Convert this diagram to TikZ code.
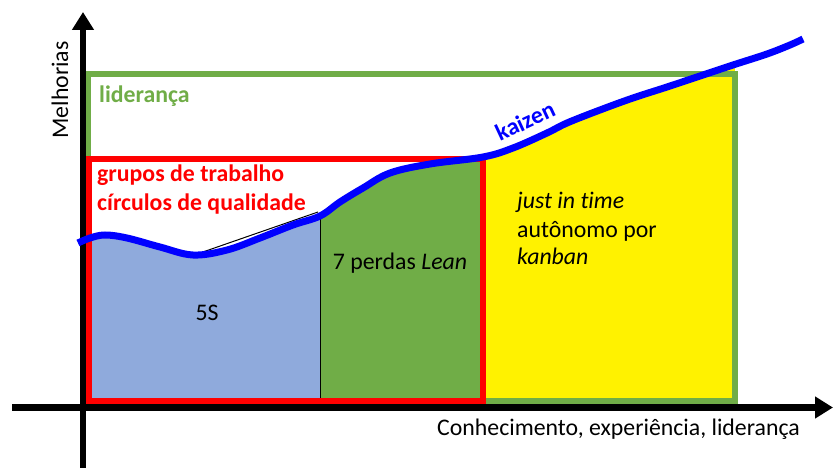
\documentclass[tikz,border=0pt]{standalone}
\usepackage{fontspec}
\setmainfont{Carlito}[Ligatures=NoCommon]
\usetikzlibrary{arrows.meta}
\definecolor{leangreen}{HTML}{70AD47}
\definecolor{fiveblue}{HTML}{8FAADC}
\definecolor{kaizenblue}{HTML}{0000FF}

\begin{document}
\begin{tikzpicture}[x=1pt, y=-1pt]
	\tikzset{axis/.style={line width=6.5pt, -{Triangle[length=18pt, width=21pt]}},
		kaizenline/.style={draw=kaizenblue, line width=7pt},
		label/.style={font=\fontsize{23.8}{29}\selectfont, inner sep=0pt},
		boldlabel/.style={label, font=\fontsize{23.8}{29}\selectfont\bfseries}}
	\useasboundingbox (0,0) rectangle (833,468);
	
	\coordinate (ybot) at (83,468);
	\coordinate (ytop) at (83,12);
	\coordinate (xleft) at (12,407.5);
	\coordinate (xright) at (833,407.5);
	
	\begin{scope}
		\clip plot[smooth, tension=0.6] coordinates {(78,243) (90,238) (105,235) (127,238) (160,247) (193,255) (227,250) (260,238) (293,225) (320,216) (340,202) (363,188) (390,173) (430,164) (483,157) (513,148) (547,133) (567,123) (600,110) (633,98) (667,87) (700,76) (733,65) (767,54) (790,45) (803,39)} -- (803,402) -- (78,402) -- cycle;
		\fill[fiveblue] (88,0) rectangle (320,402);
		\fill[leangreen] (320,0) rectangle (483,402);
		\fill[yellow] (483,0) rectangle (735,402);
	\end{scope}
	
	\coordinate (splittop) at (320,216);
	\coordinate (splitbot) at (320,401);
	\draw[line width=1pt] (splittop) -- (splitbot);
	\draw[line width=1pt] (200,253) -- (318,212);
	
	\draw[leangreen, line width=5.5pt] (88,74) rectangle (735,401);
	\draw[red, line width=6pt] (89,159) rectangle (483,401);
	
	\draw[axis] (ybot) -- (ytop);
	\draw[axis] (xleft) -- (xright);
	
	\draw[kaizenline] plot[smooth, tension=0.6] coordinates {(78,243) (90,238) (105,235) (127,238) (160,247) (193,255) (227,250) (260,238) (293,225) (320,216) (340,202) (363,188) (390,173) (430,164) (483,157) (513,148) (547,133) (567,123) (600,110) (633,98) (667,87) (700,76) (733,65) (767,54) (790,45) (803,39)};
	
	\node[label, rotate=90] (melhorias) at (60,90) {Melhorias};
	\node[label, anchor=base west] (conhecimento) at (437,435) {Conhecimento, experiência, liderança};
	\node[boldlabel, anchor=base west, text=leangreen] (lideranca) at (99,103) {liderança};
	\node[boldlabel, anchor=base west, text=red] (grupos) at (97,182) {grupos de trabalho};
	\node[boldlabel, anchor=base west, text=red] (circulos) at (97,211) {círculos de qualidade};
	\node[boldlabel, text=kaizenblue, rotate=25] (kaizen) at (525,121) {kaizen};
	\node[label, anchor=base west] (jit) at (517,208) {\itshape just in time};
	\node[label, anchor=base west] (autonomo) at (517,237) {autônomo por};
	\node[label, anchor=base west] (kanban) at (517,264) {\itshape kanban};
	\node[label, anchor=base] (perdas) at (400,269) {7 perdas \textit{Lean}};
	\node[label] (fives) at (207,313) {5S};
\end{tikzpicture}
\end{document}
